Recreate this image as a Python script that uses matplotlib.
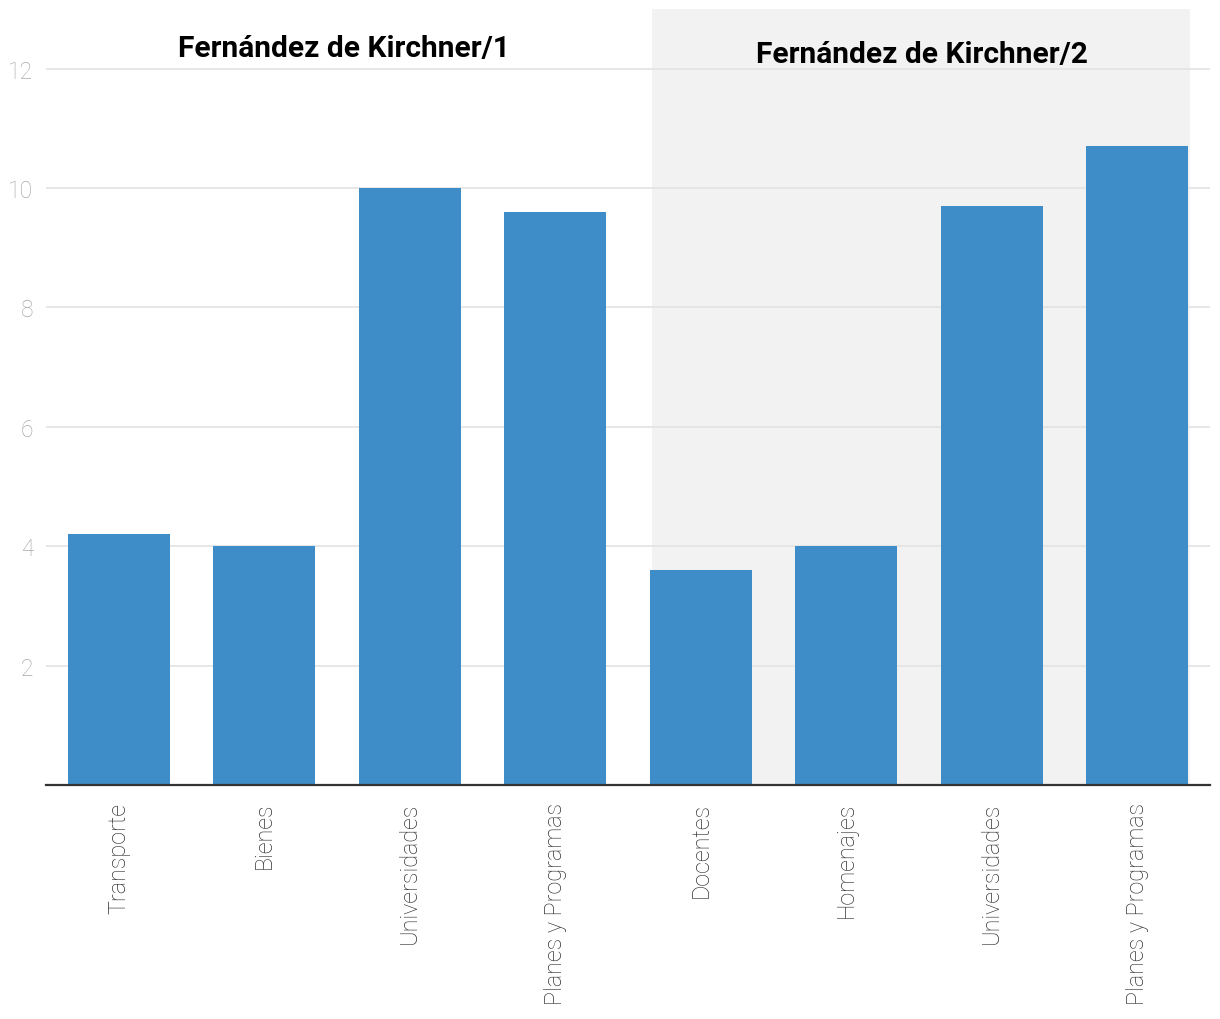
from matplotlib import pyplot as plt
import numpy as np

# datos del grafico
categorias = ["Transporte", "Bienes", "Universidades", "Planes y Programas",
              "Docentes", "Homenajes", "Universidades", "Planes y Programas"]
valores = [4.2, 4.0, 10.0, 9.6, 3.6, 4.0, 9.7, 10.7]
periodos = ["Fernández de Kirchner/1", "Fernández de Kirchner/2"]
yticks = [2, 4, 6, 8, 10, 12]

plt.rcParams['font.family'] = ['Roboto', 'DejaVu Sans']

fig = plt.figure(figsize=(12.2, 10.2), dpi=100)
ax = fig.add_axes([46 / 1220, 234 / 1020, 1164 / 1220, 776 / 1020])

x = np.arange(len(valores))

# fondo gris del segundo periodo
ax.axvspan(3.667, 7.365, color="#f2f2f2", zorder=0, lw=0)

for y in yticks:
    ax.axhline(y, color="#e3e3e3", lw=1.2, zorder=1)

ax.bar(x, valores, width=0.7, color="#3f8dc8", zorder=2)

ax.set_xlim(-0.5, 7.5)
ax.set_ylim(0, 13)
ax.set_yticks(yticks)
ax.set_yticklabels([str(v) for v in yticks], color="#a8a8a8", fontsize=16.5,
                   fontweight="light")
ax.set_xticks(x)
ax.set_xticklabels(categorias, rotation=90, color="#333333", fontsize=16.8,
                   fontweight="light", va="top")
ax.tick_params(axis="both", length=0)
ax.tick_params(axis="y", pad=9)
ax.tick_params(axis="x", pad=12)

for s in ["top", "right", "left"]:
    ax.spines[s].set_visible(False)
ax.spines["bottom"].set_color("#333333")
ax.spines["bottom"].set_linewidth(1.6)
ax.spines["bottom"].set_zorder(3)

ax.text(1.55, 12.35, periodos[0], ha="center", va="center", fontsize=21.5,
        fontweight="bold", color="#000000")
ax.text(5.52, 12.25, periodos[1], ha="center", va="center", fontsize=21.5,
        fontweight="bold", color="#000000")

plt.savefig("out.png", dpi=100)
